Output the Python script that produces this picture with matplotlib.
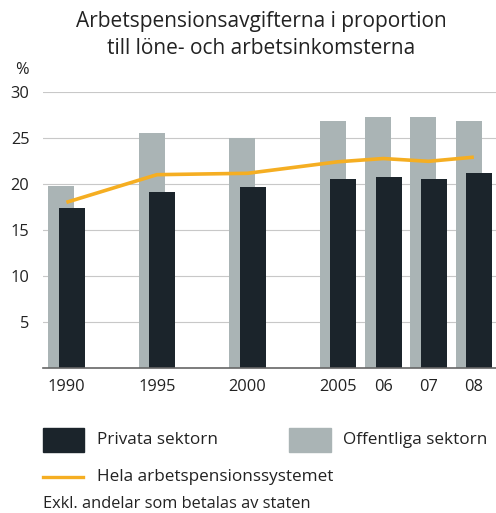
import matplotlib as mpl
import matplotlib.pyplot as plt
import numpy as np
from matplotlib.patches import Rectangle
from matplotlib.lines import Line2D

mpl.rcParams.update({
    "font.family": ["Open Sans", "DejaVu Sans"],
    "font.size": 11.5,
    "axes.spines.top": False, "axes.spines.right": False,
    "axes.spines.left": False,
})

C_PRIV = "#1b242b"
C_OFF = "#aab4b5"
C_LINE = "#f5ae22"
GRID = "#c8c8c8"
TXT = "#222222"

# ----- Data -----
years = ["1990", "1995", "2000", "2005", "06", "07", "08"]
x_pos = [0, 2, 4, 6, 7, 8, 9]          # 5-year steps drawn twice as wide
offentliga = [19.8, 25.55, 25.0, 26.8, 27.25, 27.25, 26.85]
privata = [17.35, 19.1, 19.7, 20.5, 20.7, 20.5, 21.15]
hela = [18.0, 21.0, 21.15, 22.4, 22.75, 22.45, 22.9]
y_ticks = [5, 10, 15, 20, 25, 30]

W, H = 496, 513
fig = plt.figure(figsize=(W / 100, H / 100), dpi=100)
ax = fig.add_axes([43.3 / W, 1 - 368.3 / H, (W - 43.3) / W, (368.3 - 91.7) / H])

x = np.array(x_pos, dtype=float)
bw = 0.575; off = 0.116
ax.bar(x - off, offentliga, width=bw, color=C_OFF, zorder=2)
ax.bar(x + off, privata, width=bw, color=C_PRIV, zorder=3)
ax.plot(x, hela, color=C_LINE, lw=2.6, zorder=4, solid_capstyle="butt")

ax.set_xlim(-0.51, 9.49)
ax.set_ylim(0, 30)
ax.set_yticks(y_ticks)
ax.set_xticks(x)
ax.set_xticklabels(years)
ax.tick_params(axis="both", length=0, colors=TXT, labelsize=11.8)
ax.tick_params(axis="y", pad=10)
ax.tick_params(axis="x", pad=8)
ax.grid(axis="y", color=GRID, lw=0.8, zorder=0)
ax.set_axisbelow(True)
ax.spines["bottom"].set_color("#666666")
ax.spines["bottom"].set_linewidth(1.2)
ax.spines["bottom"].set_zorder(5)

fig.text(22 / W, 1 - 70 / H, "%", ha="center", va="center", fontsize=11.8, color=TXT)
fig.text(261 / W, 1 - 22 / H, "Arbetspensionsavgifterna i proportion",
         ha="center", va="center", fontsize=15, color=TXT)
fig.text(261 / W, 1 - 48 / H, "till löne- och arbetsinkomsterna",
         ha="center", va="center", fontsize=15, color=TXT)

# ----- Legend (drawn by hand to match the layout) -----
def fx(px): return px / W
def fy(py): return 1 - py / H

fig.add_artist(Rectangle((fx(42.7), fy(452.3)), fx(84) - fx(42.7), fy(428.3) - fy(452.3),
                         transform=fig.transFigure, color=C_PRIV))
fig.text(fx(96.7), fy(440), "Privata sektorn", va="center", color=TXT, fontsize=12.3)
fig.add_artist(Rectangle((fx(289.3), fy(452.3)), fx(331) - fx(289.3), fy(428.3) - fy(452.3),
                         transform=fig.transFigure, color=C_OFF))
fig.text(fx(343.3), fy(440), "Offentliga sektorn", va="center", color=TXT, fontsize=12.3)
fig.add_artist(Line2D([fx(42.7), fx(83)], [fy(476.7), fy(476.7)],
                      transform=fig.transFigure, color=C_LINE, lw=2.4))
fig.text(fx(96.7), fy(477), "Hela arbetspensionssystemet", va="center", color=TXT, fontsize=12.3)
fig.text(fx(43), fy(504), "Exkl. andelar som betalas av staten", va="center",
         color=TXT, fontsize=11.8)

fig.savefig("out.png", dpi=100, facecolor="white")
